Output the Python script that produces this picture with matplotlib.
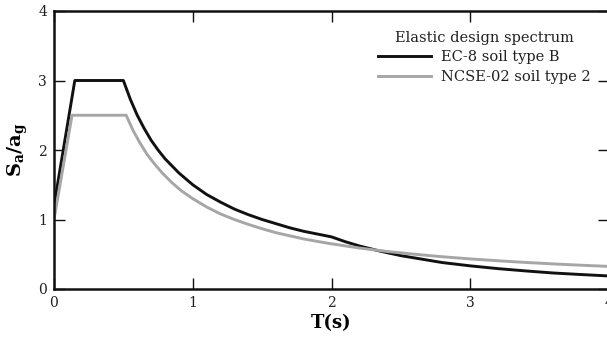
import matplotlib
matplotlib.use("Agg")
import matplotlib.pyplot as plt

# EC-8 soil type B
t_ec8 = [0.0, 0.15, 0.5, 0.55, 0.6, 0.65, 0.7, 0.75, 0.8, 0.9, 1.0, 1.1, 1.2, 1.3, 1.4,
         1.5, 1.6, 1.7, 1.8, 1.9, 2.0, 2.1, 2.2, 2.35, 2.5, 2.65, 2.8, 3.0, 3.2, 3.4,
         3.6, 3.8, 4.0]
sa_ec8 = [1.2, 3.0, 3.0, 2.73, 2.5, 2.31, 2.14, 2.0, 1.875, 1.67, 1.5, 1.36, 1.25, 1.15,
          1.07, 1.0, 0.94, 0.88, 0.83, 0.79, 0.75, 0.68, 0.62, 0.545, 0.48, 0.43, 0.38,
          0.333, 0.293, 0.26, 0.23, 0.208, 0.1875]

# NCSE-02 soil type 2
t_ncse = [0.0, 0.13, 0.52, 0.57, 0.62, 0.67, 0.72, 0.78, 0.85, 0.92, 1.0, 1.1, 1.2, 1.3,
          1.4, 1.5, 1.6, 1.7, 1.8, 1.9, 2.0, 2.2, 2.4, 2.6, 2.8, 3.0, 3.2, 3.4, 3.6,
          3.8, 4.0]
sa_ncse = [1.0, 2.5, 2.5, 2.28, 2.10, 1.94, 1.81, 1.67, 1.53, 1.41, 1.3, 1.18, 1.08, 1.0,
           0.93, 0.867, 0.81, 0.765, 0.72, 0.684, 0.65, 0.59, 0.54, 0.5, 0.464, 0.433,
           0.406, 0.382, 0.361, 0.342, 0.325]

x_ticks = [0, 1, 2, 3, 4]
y_ticks = [0, 1, 2, 3, 4]

plt.rcParams['font.family'] = ['DejaVu Serif']
plt.rcParams['mathtext.fontset'] = 'dejavuserif'

fig = plt.figure(figsize=(6.07, 3.40), dpi=100)
ax = fig.add_axes([54 / 607, 51 / 340, (609 - 54) / 607, (289 - 11) / 340])

ax.plot(t_ec8, sa_ec8, color='#111111', lw=2.1, label='EC-8 soil type B',
        solid_joinstyle='round')
ax.plot(t_ncse, sa_ncse, color='#a6a6a6', lw=2.1, label='NCSE-02 soil type 2',
        solid_joinstyle='round')

ax.set_xlim(0, 4)
ax.set_ylim(0, 4)
ax.set_xticks(x_ticks)
ax.set_yticks(y_ticks)
ax.tick_params(direction='in', length=8, width=1.0, top=True, right=True,
               labelsize=10, pad=5, color='#111111', labelcolor='#222222')
for s in ax.spines.values():
    s.set_linewidth(1.8)
    s.set_color('#111111')

ax.set_xlabel('T(s)', fontsize=13, fontweight='bold', labelpad=3)
ax.set_ylabel(r'$\mathbf{S_a/a_g}$', fontsize=14, labelpad=6)

leg = ax.legend(title='Elastic design spectrum', loc='upper right', frameon=False,
                fontsize=10.5, title_fontsize=10.5, handlelength=3.6,
                handletextpad=0.75, borderaxespad=0.6, labelspacing=0.38,
                bbox_to_anchor=(0.994, 0.982))
leg.get_title().set_color('#222222')
for txt in leg.get_texts():
    txt.set_color('#222222')

fig.savefig('out.png', dpi=100)
